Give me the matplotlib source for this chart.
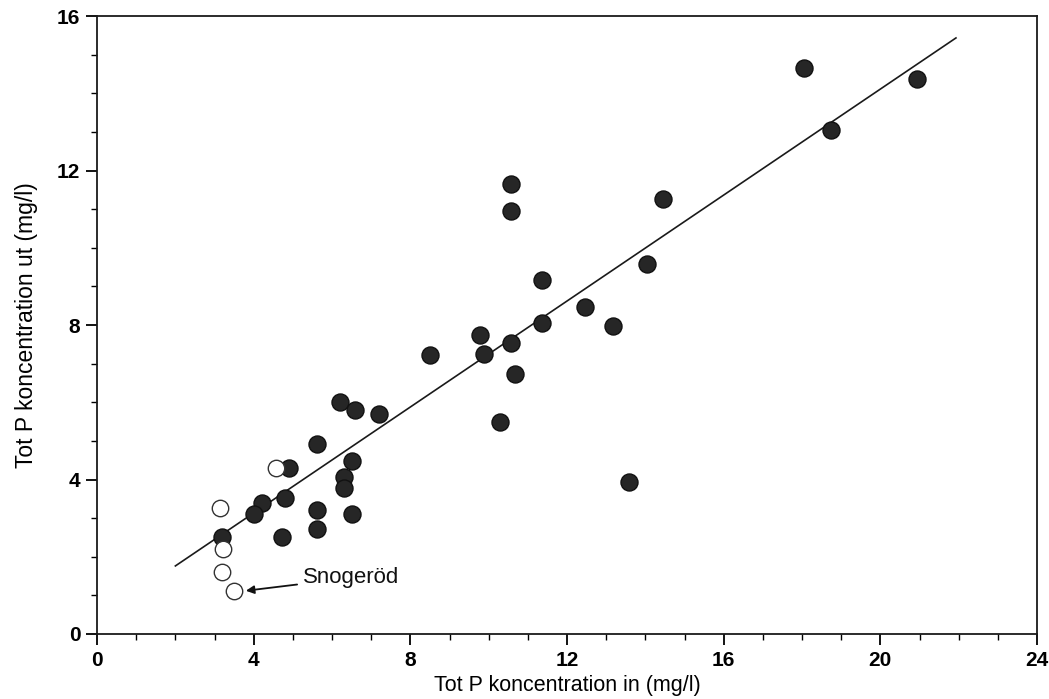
import numpy as np
import matplotlib
matplotlib.use("Agg")
import matplotlib.pyplot as plt
from matplotlib.ticker import MultipleLocator

# filled points: Tot P in / ut (mg/l)
x_filled = [18.05, 20.94, 18.74, 14.45, 10.57, 10.57, 11.36, 14.04, 12.46, 13.17,
            11.36, 9.78, 9.88, 10.57, 10.67, 8.50, 10.29, 13.58, 6.20, 6.59,
            7.20, 5.62, 4.90, 6.51, 6.31, 6.31, 4.80, 4.21, 4.01, 5.62,
            6.51, 3.19, 4.72, 5.62]
y_filled = [14.66, 14.38, 13.06, 11.27, 11.66, 10.96, 9.17, 9.59, 8.47, 7.98,
            8.06, 7.75, 7.25, 7.54, 6.74, 7.23, 5.49, 3.94, 6.01, 5.80,
            5.70, 4.92, 4.30, 4.48, 4.07, 3.78, 3.52, 3.39, 3.10, 3.22,
            3.11, 2.51, 2.51, 2.72]

# open points
x_open = [4.57, 3.14, 3.22, 3.19, 3.50]
y_open = [4.30, 3.26, 2.20, 1.61, 1.11]

# regression line
line_x = [2.0, 21.93]
slope, intercept = 0.686, 0.39

font = ['Liberation Sans', 'DejaVu Sans']
plt.rcParams['font.family'] = font

fig = plt.figure(figsize=(10.49, 6.99), dpi=100)
ax = fig.add_axes([0.0925, 0.093, 0.8961, 0.884])

lx = np.array(line_x)
ax.plot(lx, intercept + slope * lx, color='#1a1a1a', lw=1.2, zorder=2)

ax.scatter(x_filled, y_filled, s=150, c='#262626', edgecolors='#111111',
           linewidths=1.0, zorder=3)
ax.scatter(x_open, y_open, s=140, c='white', edgecolors='#333333',
           linewidths=1.0, zorder=3)

ax.annotate('Snogeröd', xy=(3.8, 1.12), xytext=(5.25, 1.45),
            fontsize=16, va='center', ha='left', color='#111111',
            arrowprops=dict(arrowstyle='-|>', color='#111111', lw=1.3,
                            mutation_scale=12, shrinkA=2, shrinkB=0))

ax.set_xlim(0, 24)
ax.set_ylim(0, 16)
ax.xaxis.set_major_locator(MultipleLocator(4))
ax.xaxis.set_minor_locator(MultipleLocator(1))
ax.yaxis.set_major_locator(MultipleLocator(4))
ax.yaxis.set_minor_locator(MultipleLocator(1))
ax.tick_params(which='major', direction='out', length=8, width=1.3,
               labelsize=15, pad=4)
ax.tick_params(which='minor', direction='out', length=4, width=1.0)
for lab in ax.get_xticklabels() + ax.get_yticklabels():
    lab.set_fontweight('bold')
for sp in ax.spines.values():
    sp.set_linewidth(1.3)
    sp.set_color('#1a1a1a')

ax.set_xlabel('Tot P koncentration in (mg/l)', fontsize=15.5, labelpad=4)
ax.set_ylabel('Tot P koncentration ut (mg/l)', fontsize=16.5, labelpad=14)

fig.savefig('out.png', dpi=100)
